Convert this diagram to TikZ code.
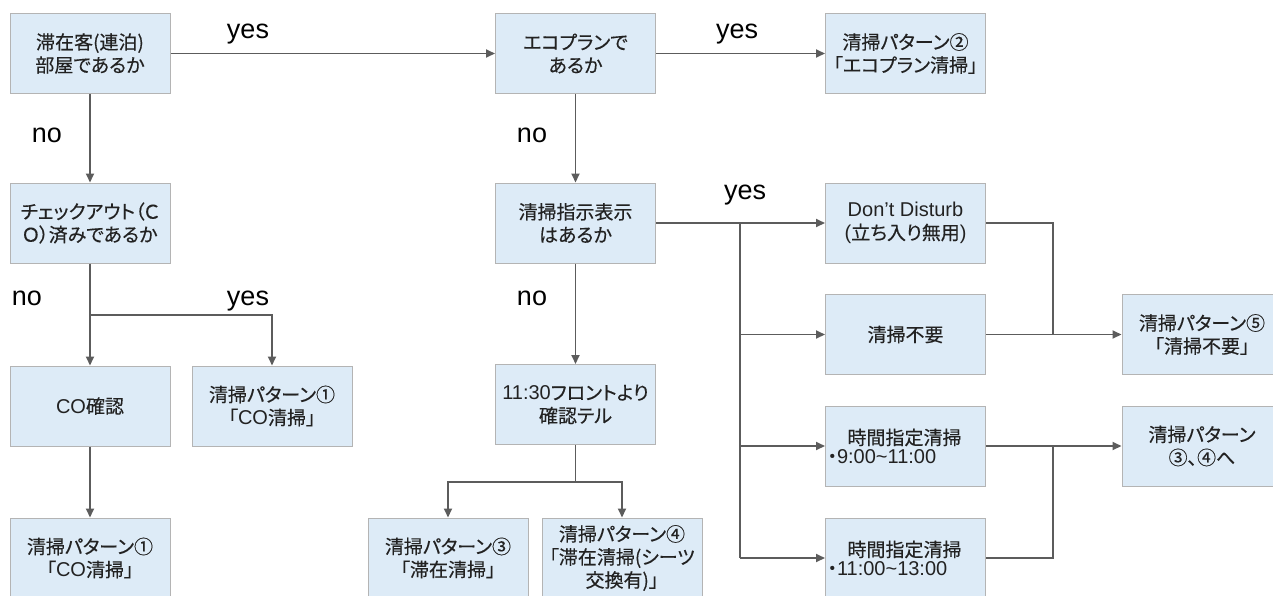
\documentclass[tikz,border=0pt]{standalone}
\usepackage{fontspec}
\setmainfont{Liberation Sans}
\newfontfamily\jp[RawFeature=+palt, FakeBold=0.35]{Noto Sans CJK JP}
\newcommand{\en}[1]{{\rmfamily\fontsize{20}{23}\selectfont #1}}
\usetikzlibrary{arrows.meta}
\definecolor{boxfill}{HTML}{DDEBF7}
\definecolor{boxline}{HTML}{B4B4B4}
\definecolor{connc}{HTML}{5C5C5C}
\definecolor{txt}{HTML}{222222}
\begin{document}
\begin{tikzpicture}[x=1pt,y=-1pt,
  box/.style={draw=boxline, fill=boxfill, line width=1pt, minimum width=160pt,
    minimum height=80pt, inner sep=2pt, align=center, text=txt,
    font=\jp\fontsize{19}{23}\selectfont},
  timebox/.style={box, text width=156pt, align=left, font=\jp\fontsize{19}{18.5}\selectfont},
  conn/.style={draw=connc, line width=1.8pt},
  arr/.style={conn, -{Triangle[length=9pt,width=8pt]}},
  lab/.style={font=\fontsize{27}{30}\selectfont, anchor=base, text=black, inner sep=0pt}]
\fill[white] (0,0) rectangle (1273,595);
\useasboundingbox (0,0) rectangle (1273,595);
% nodes
\node[box] (q1) at (90,53.5) {滞在客(連泊)\\部屋であるか};
\node[box] (eco) at (575.5,53.5) {エコプランで\\あるか};
\node[box] (p2) at (905.5,53.5) {清掃パターン②\\「エコプラン清掃」};
\node[box] (coq) at (90,223) {チェックアウト（Ｃ\\Ｏ）済みであるか};
\node[box] (disp) at (575.5,223) {清掃指示表示\\はあるか};
\node[box] (dnd) at (905.5,223) {\en{Don’t Disturb}\\\en{(}立ち入り無用\en{)}};
\node[box] (coconf) at (90,406) {\en{CO}確認};
\node[box] (p1a) at (272,406) {清掃パターン①\\「\en{CO}清掃」};
\node[box] (fuyo) at (905.5,334.5) {清掃不要};
\node[box] (p5) at (1202,334.5) {清掃パターン⑤\\「清掃不要」};
\node[box] (tel) at (575.5,404.5) {\en{11:30}フロントより\\確認テル};
\node[timebox] (t1) at (905.5,446) {\hspace*{20pt}時間指定清掃\\・\en{9:00\textasciitilde11:00}};
\node[box] (p34) at (1202,446) {清掃パターン\\③、④へ};
\node[box] (p1b) at (90,558) {清掃パターン①\\「\en{CO}清掃」};
\node[box] (p3) at (448,558) {清掃パターン③\\「滞在清掃」};
\node[box] (p4) at (622,558) {清掃パターン④\\「滞在清掃(シーツ\\交換有)」};
\node[timebox] (t2) at (905.5,558) {\hspace*{20pt}時間指定清掃\\・\en{11:00\textasciitilde13:00}};
% junction coordinates
\coordinate (j1) at (90,315);
\coordinate (j2) at (740,223);
\coordinate (j3) at (1053,223);
\coordinate (j4) at (575.5,482);
% connectors
\draw[arr] (q1.east) -- (eco.west);
\draw[arr] (eco.east) -- (p2.west);
\draw[arr] (q1.south) -- (coq.north);
\draw[arr] (eco.south) -- (disp.north);
\draw[arr] (coq.south) -- (coconf.north);
\draw[arr] (j1) -| (p1a.north);
\draw[arr] (coconf.south) -- (p1b.north);
\draw[arr] (disp.east) -- (dnd.west);
\draw[arr] (disp.south) -- (tel.north);
\draw[conn] (j2) -- (j2 |- t2);
\draw[arr] (j2 |- fuyo) -- (fuyo.west);
\draw[arr] (j2 |- t1) -- (t1.west);
\draw[arr] (j2 |- t2) -- (t2.west);
\draw[conn] (dnd.east) -| (j3 |- fuyo);
\draw[arr] (fuyo.east) -- (p5.west);
\draw[arr] (t1.east) -- (p34.west);
\draw[conn] (t2.east) -| (j3 |- t1);
\draw[conn] (tel.south) -- (j4);
\draw[arr] (j4) -| (p3.north);
\draw[arr] (j4) -| (p4.north);
% labels
\node[lab] (y1) at (248,38) {yes};
\node[lab] (y2) at (737,38) {yes};
\node[lab] (n1) at (47,142) {no};
\node[lab] (n2) at (532,142) {no};
\node[lab] (y3) at (745,199) {yes};
\node[lab] (n3) at (27,305) {no};
\node[lab] (y4) at (248,305) {yes};
\node[lab] (n4) at (532,305) {no};
\end{tikzpicture}
\end{document}
